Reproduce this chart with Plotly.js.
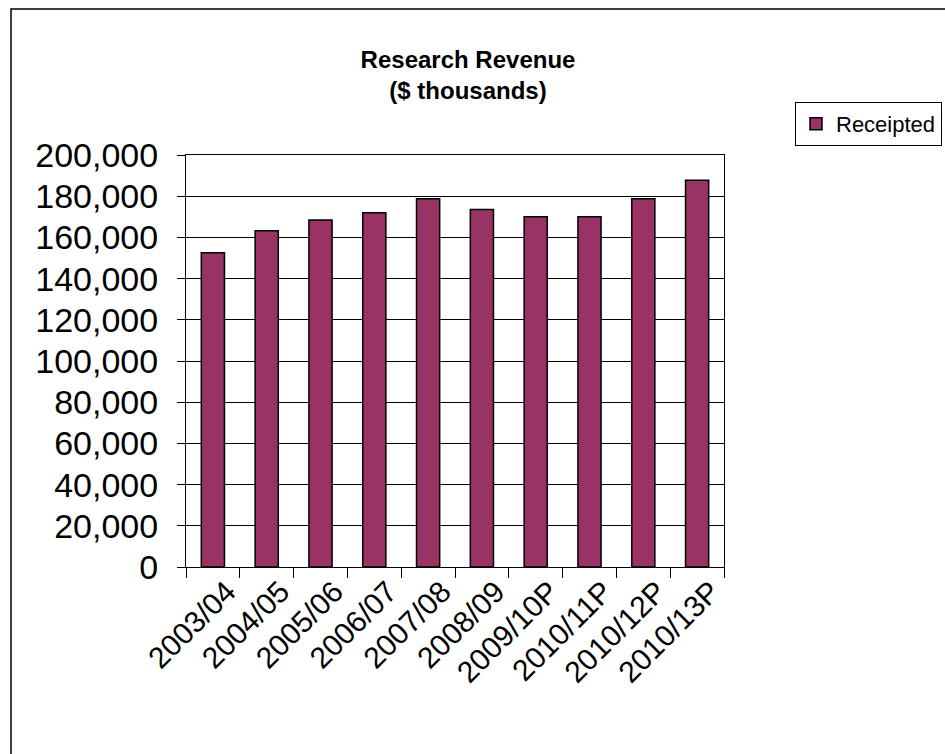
<!DOCTYPE html>
<html>
<head>
<meta charset="utf-8">
<script src="https://cdn.plot.ly/plotly-3.0.1.min.js"></script>
<style>html,body{margin:0;padding:0;background:#fff;}#chart{width:945px;height:754px;}</style>
</head>
<body>
<div id="chart"></div>
<script>
const categories = ["2003/04","2004/05","2005/06","2006/07","2007/08","2008/09","2009/10P","2010/11P","2010/12P","2010/13P"];
const receipted = [152500, 163200, 168400, 172000, 178800, 173600, 170000, 170000, 178800, 187700];
const seriesName = "Receipted";
const yTicks = [0,20000,40000,60000,80000,100000,120000,140000,160000,180000,200000];

const FONT = "Liberation Sans, Arial, sans-serif";
const W = 945, H = 754;
const L = 186, R = 724, T = 155, B = 567;
const px = v => (v - L) / (R - L);
const py = v => (B - v) / (B - T);

const trace = {
  type: "bar",
  x: categories,
  y: receipted,
  name: seriesName,
  showlegend: true,
  marker: {color: "#993366", line: {color: "#000000", width: 1.5}}
};

const layout = {
  width: W, height: H,
  margin: {l: L, r: W - R, t: T, b: H - B, pad: 0, autoexpand: false},
  paper_bgcolor: "#ffffff",
  plot_bgcolor: "#ffffff",
  font: {family: FONT, color: "#000000"},
  bargap: 0.57,
  title: {
    text: "<b>Research Revenue</b><br><b>($ thousands)</b>",
    font: {family: FONT, size: 24, color: "#000000"},
    x: 468 / W, xanchor: "center", xref: "container",
    y: 1 - 68 / H, yanchor: "middle", yref: "container"
  },
  xaxis: {
    type: "category",
    tickangle: -45,
    tickson: "boundaries",
    ticks: "outside",
    ticklen: 10,
    tickcolor: "#000000",
    tickwidth: 1,
    showline: true, linecolor: "#000000", linewidth: 1, mirror: true,
    showgrid: false,
    tickfont: {family: FONT, size: 30, color: "#000000"},
    ticklabelshift: 14,
    ticklabelstandoff: -6
  },
  yaxis: {
    range: [0, 200000],
    tickvals: yTicks,
    tickformat: ",",
    ticks: "outside",
    ticklen: 8,
    tickcolor: "#000000",
    showline: true, linecolor: "#000000", linewidth: 1, mirror: true,
    showgrid: true, gridcolor: "#000000", gridwidth: 1,
    zeroline: false,
    tickfont: {family: FONT, size: 34, color: "#000000"},
    ticklabelstandoff: 12
  },
  legend: {
    x: px(942), xanchor: "right", xref: "paper",
    y: py(102), yanchor: "top", yref: "paper",
    bordercolor: "#000000", borderwidth: 1, bgcolor: "#ffffff",
    font: {family: FONT, size: 22, color: "#000000"},
    itemwidth: 30
  },
  shapes: [{
    type: "rect", xref: "paper", yref: "paper", layer: "below",
    x0: px(11), x1: px(W + 20),
    y0: py(H + 20), y1: py(9),
    line: {color: "#000000", width: 1.5}, fillcolor: "rgba(0,0,0,0)"
  }]
};

Plotly.newPlot("chart", [trace], layout, {displayModeBar: false, staticPlot: true});
</script>
</body>
</html>
